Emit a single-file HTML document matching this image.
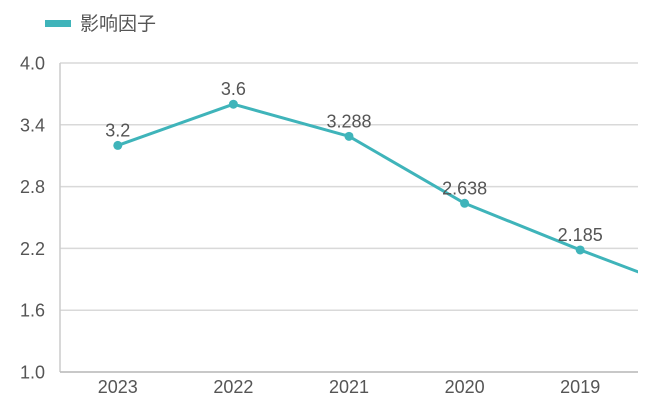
<!DOCTYPE html>
<html><head><meta charset="utf-8"><style>
html,body{margin:0;padding:0;background:#fff;}
svg text{font-family:"Liberation Sans","Noto Sans CJK SC",sans-serif;}
</style></head><body>
<svg width="655" height="400" xmlns="http://www.w3.org/2000/svg">
<defs><clipPath id="plot"><rect x="60" y="55" width="578" height="330"/></clipPath></defs>
<g>
<rect x="45" y="20" width="26" height="7" fill="#3fb4ba"/>
<text x="80" y="30" font-size="19" fill="#555">影响因子</text>
</g>
<g id="grid"></g><g id="axes"></g><g id="series" clip-path="url(#plot)"></g><g id="labels"></g>
</svg>
<script>
const categories=["2023","2022","2021","2020","2019","2018"];
const values=[3.2,3.6,3.288,2.638,2.185,1.76];
const valueLabels=["3.2","3.6","3.288","2.638","2.185",""];
const yTicks=[1.0,1.6,2.2,2.8,3.4,4.0];
const yTickLabels=["1.0","1.6","2.2","2.8","3.4","4.0"];
const visibleCount=5;
const NS="http://www.w3.org/2000/svg";
const L=60,R=638,T=63,B=372,yMin=1,yMax=4;
const band=(R-L)/visibleCount;
const x=i=>L+band*(i+0.5);
const y=v=>B-(v-yMin)/(yMax-yMin)*(B-T);
function mk(tag,attrs,parent){const e=document.createElementNS(NS,tag);for(const k in attrs)e.setAttribute(k,attrs[k]);document.getElementById(parent).appendChild(e);return e;}
yTicks.forEach((t,i)=>{
 const g=mk("line",{x1:L,x2:R,y1:y(t),y2:y(t),stroke:"#d9d9d9","stroke-width":1.5},"grid");
 
 
 const lb=mk("text",{x:45,y:y(t)+6.5,"text-anchor":"end","font-size":18,fill:"#555"},"axes");
 lb.textContent=yTickLabels[i];
 
 
});
const ax=mk("line",{x1:L,x2:L,y1:T,y2:B,stroke:"#ccc","stroke-width":1.5},"axes");


const bx=mk("line",{x1:L,x2:R,y1:B,y2:B,stroke:"#bbb","stroke-width":1.5},"axes");


for(let i=0;i<visibleCount;i++){
 const lb=mk("text",{x:x(i),y:393,"text-anchor":"middle","font-size":18,fill:"#555"},"axes");
 lb.textContent=categories[i];
 
 
}
const pts=values.map((v,i)=>x(i)+","+y(v)).join(" ");
const pl=mk("polyline",{points:pts,fill:"none",stroke:"#3fb4ba","stroke-width":3,"stroke-linejoin":"round"},"series");


values.forEach((v,i)=>{
 if(i>=visibleCount)return;
 const c=mk("circle",{cx:x(i),cy:y(v),r:4.5,fill:"#3fb4ba"},"series");
 
 
 const t=mk("text",{x:x(i),y:y(v)-9,"text-anchor":"middle","font-size":18,fill:"#555"},"labels");
 t.textContent=valueLabels[i];
 
 
});
</script>
</body></html>
